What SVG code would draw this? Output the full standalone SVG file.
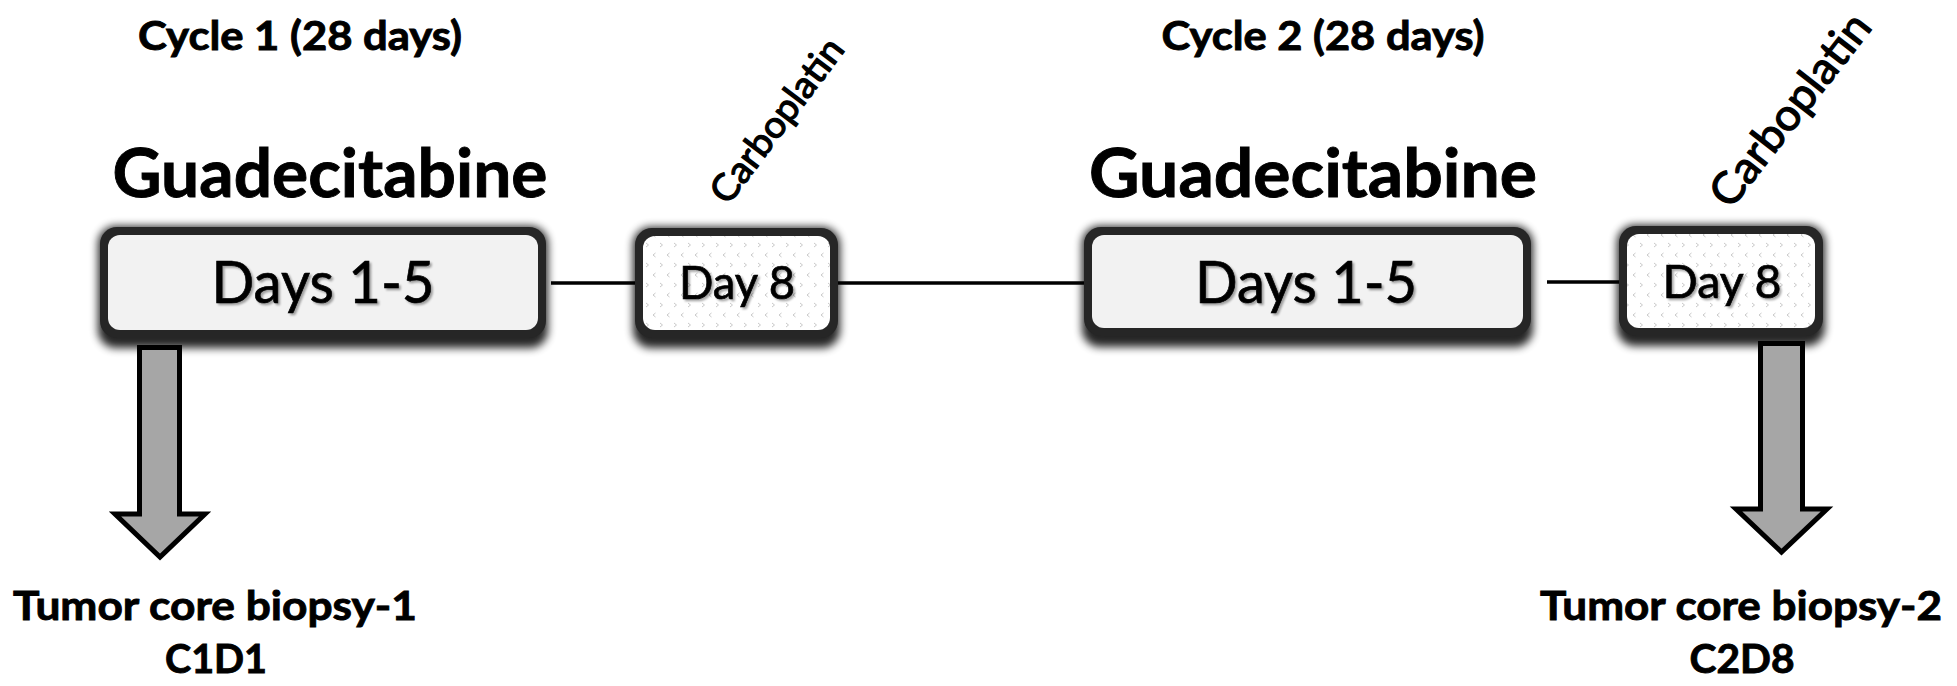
<svg xmlns="http://www.w3.org/2000/svg" width="1957" height="686" viewBox="0 0 1957 686">
  <defs>
    <filter id="blur" x="-20%" y="-30%" width="140%" height="160%">
      <feGaussianBlur stdDeviation="4"/>
    </filter>
    <filter id="tshadow" x="-10%" y="-20%" width="120%" height="150%">
      <feGaussianBlur in="SourceAlpha" stdDeviation="1.2"/>
      <feOffset dx="1.5" dy="2" result="o"/>
      <feComponentTransfer><feFuncA type="linear" slope="0.35"/></feComponentTransfer>
      <feMerge><feMergeNode/><feMergeNode in="SourceGraphic"/></feMerge>
    </filter>
    <pattern id="dots" width="14" height="20" patternUnits="userSpaceOnUse">
      <rect width="14" height="20" fill="#ffffff"/>
      <path d="M2 3 L4.5 5 L2 7" fill="none" stroke="#c9c9c9" stroke-width="1"/>
      <path d="M11.5 13 L9 15 L11.5 17" fill="none" stroke="#c9c9c9" stroke-width="1"/>
    </pattern>
  </defs>
  <style>
    .shadow { fill: #000; opacity: 0.85; filter: url(#blur); }
    .band { fill: #262626; }
    .fill { fill: #f2f2f2; }
    .dfill { fill: url(#dots); }
    .conn { stroke: #000; stroke-width: 3.5; fill: none; }
    .arrow { fill: #a6a6a6; stroke: #000; stroke-width: 5; stroke-linejoin: miter; }
    .bold { font-family: Lato, "Liberation Sans", sans-serif; font-weight: bold; fill: #000; stroke: #000; stroke-width: 0.9; }
    .reg { font-family: Lato, "Liberation Sans", sans-serif; font-weight: normal; fill: #000; stroke: #000; stroke-width: 0.7; }
    .carbo { font-family: Lato, "Liberation Sans", sans-serif; font-weight: normal; fill: #000; stroke: #000; stroke-width: 1.2; }
  </style>
  <rect width="1957" height="686" fill="#ffffff"/>

  <g id="connectors">
    <line class="conn" x1="551" y1="283" x2="645" y2="283"/>
    <line class="conn" x1="828" y1="283" x2="1095" y2="283"/>
    <line class="conn" x1="1547" y1="282" x2="1630" y2="282"/>
  </g>

  <g id="title-cycle1">
    <text class="bold" x="300" y="50" font-size="40" text-anchor="middle" textLength="324" lengthAdjust="spacingAndGlyphs">Cycle 1 (28 days)</text>
  </g>
  <g id="title-cycle2">
    <text class="bold" x="1323" y="50" font-size="40" text-anchor="middle" textLength="323" lengthAdjust="spacingAndGlyphs">Cycle 2 (28 days)</text>
  </g>
  <g id="label-guad1">
    <text class="bold" x="330" y="197" font-size="66" text-anchor="middle" textLength="435" lengthAdjust="spacingAndGlyphs">Guadecitabine</text>
  </g>
  <g id="label-guad2">
    <text class="bold" x="1313" y="197" font-size="66" text-anchor="middle" textLength="448" lengthAdjust="spacingAndGlyphs">Guadecitabine</text>
  </g>

  <g id="box-days1-5-c1">
    <rect class="shadow" x="98" y="226" width="450" height="122" rx="18"/>
    <rect class="band" x="100" y="227" width="446" height="111" rx="17"/>
    <rect class="fill" x="108" y="235" width="430" height="95" rx="12"/>
    <text class="reg" x="323" y="303" font-size="58" text-anchor="middle" textLength="223" lengthAdjust="spacingAndGlyphs" filter="url(#tshadow)">Days 1-5</text>
  </g>

  <g id="box-day8-c1">
    <rect class="shadow" x="633" y="227" width="207" height="121" rx="18"/>
    <rect class="band" x="635" y="228" width="203" height="110" rx="17"/>
    <rect class="dfill" x="643" y="236" width="187" height="94" rx="12"/>
    <text class="reg" x="737" y="299" font-size="46" text-anchor="middle" textLength="116" lengthAdjust="spacingAndGlyphs" filter="url(#tshadow)">Day 8</text>
  </g>
  <g id="label-carbo1">
    <text class="carbo" transform="translate(787 128) rotate(-53)" x="0" y="0" font-size="37" text-anchor="middle" textLength="196" lengthAdjust="spacingAndGlyphs">Carboplatin</text>
  </g>

  <g id="box-days1-5-c2">
    <rect class="shadow" x="1082" y="226" width="451" height="121" rx="18"/>
    <rect class="band" x="1084" y="227" width="447" height="109" rx="17"/>
    <rect class="fill" x="1092" y="235" width="431" height="93" rx="12"/>
    <text class="reg" x="1306" y="303" font-size="58" text-anchor="middle" textLength="222" lengthAdjust="spacingAndGlyphs" filter="url(#tshadow)">Days 1-5</text>
  </g>

  <g id="box-day8-c2">
    <rect class="shadow" x="1617" y="225" width="208" height="121" rx="18"/>
    <rect class="band" x="1619" y="226" width="204" height="110" rx="17"/>
    <rect class="dfill" x="1627" y="234" width="188" height="94" rx="12"/>
    <text class="reg" x="1722" y="298" font-size="46" text-anchor="middle" textLength="119" lengthAdjust="spacingAndGlyphs" filter="url(#tshadow)">Day 8</text>
  </g>
  <g id="label-carbo2">
    <text class="carbo" transform="translate(1802 119) rotate(-52)" x="0" y="0" font-size="44" text-anchor="middle" textLength="232" lengthAdjust="spacingAndGlyphs">Carboplatin</text>
  </g>

  <g id="arrow-biopsy1">
    <path class="arrow" d="M139.5 347.5 H179.5 V514 H205 L160 557 L115 514 H139.5 Z"/>
  </g>
  <g id="arrow-biopsy2">
    <path class="arrow" d="M1760.5 343.5 H1802.5 V509 H1827 L1781.5 552 L1736 509 H1760.5 Z"/>
  </g>

  <g id="label-biopsy1">
    <text class="bold" x="215" y="620" font-size="41" text-anchor="middle" textLength="404" lengthAdjust="spacingAndGlyphs">Tumor core biopsy-1</text>
    <text class="bold" x="216" y="673" font-size="41" text-anchor="middle" textLength="102" lengthAdjust="spacingAndGlyphs">C1D1</text>
  </g>
  <g id="label-biopsy2">
    <text class="bold" x="1741" y="620" font-size="41" text-anchor="middle" textLength="402" lengthAdjust="spacingAndGlyphs">Tumor core biopsy-2</text>
    <text class="bold" x="1742" y="673" font-size="41" text-anchor="middle" textLength="105" lengthAdjust="spacingAndGlyphs">C2D8</text>
  </g>
</svg>
